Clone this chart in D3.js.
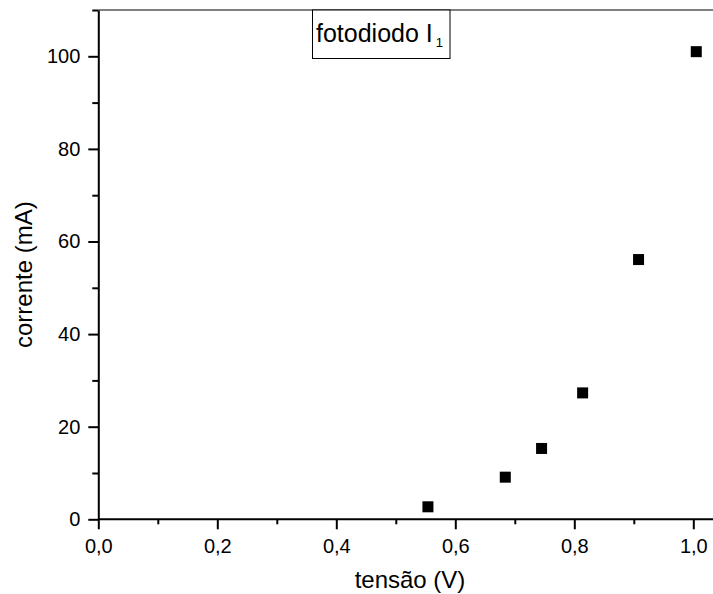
<!DOCTYPE html>
<html>
<head>
<meta charset="utf-8">
<script src="https://cdn.jsdelivr.net/npm/d3@7"></script>
<style>
  body { margin: 0; background: #fff; }
  svg { display: block; }
  text, tspan { font-family: "Liberation Sans", Arial, sans-serif; fill: #000; }
</style>
</head>
<body>
<svg id="chart" width="713" height="594"></svg>
<script>
// ---- data ----
const voltage = [0.554, 0.684, 0.745, 0.814, 0.908, 1.005];
const current = [2.7, 9.1, 15.3, 27.3, 56.1, 101.0];
const xMajorTicks = [0, 0.2, 0.4, 0.6, 0.8, 1.0];
const xMinorTicks = [0.1, 0.3, 0.5, 0.7, 0.9];
const yMajorTicks = [0, 20, 40, 60, 80, 100];
const yMinorTicks = [10, 30, 50, 70, 90, 110];
const xTitle = "tensão (V)";
const yTitle = "corrente (mA)";
const legendText = "fotodiodo I";
const legendSub = "1";

(function () {
const svg = d3.select("#chart");
const pLeft = 98.3, pBottom = 519.3, pTop = 10;
const x = d3.scaleLinear().domain([0, 1.0]).range([pLeft, 693.3]);
const y = d3.scaleLinear().domain([0, 110]).range([pBottom, pTop]);
const xEnd = 713;

const loc = d3.formatLocale({decimal: ",", thousands: ".", grouping: [3], currency: ["", ""]});
const fx = loc.format(".1f");

// top gray frame line
svg.append("line")
  .attr("x1", pLeft).attr("x2", xEnd).attr("y1", pTop).attr("y2", pTop)
  .attr("stroke", "#808080").attr("stroke-width", 2);

// x axis
const gx = svg.append("g").attr("transform", `translate(0,${pBottom})`);
gx.call(d3.axisBottom(x).tickValues(xMajorTicks).tickFormat(fx).tickSize(10).tickPadding(10).tickSizeOuter(0));
gx.append("g").call(d3.axisBottom(x).tickValues(xMinorTicks).tickFormat("").tickSize(5).tickSizeOuter(0))
  .select(".domain").remove();
gx.select(".domain").attr("d", `M${pLeft},0H${xEnd}`);

// y axis
const gy = svg.append("g").attr("transform", `translate(${pLeft},0)`);
gy.call(d3.axisLeft(y).tickValues(yMajorTicks).tickSize(10).tickPadding(8).tickSizeOuter(0));
gy.append("g").call(d3.axisLeft(y).tickValues(yMinorTicks).tickFormat("").tickSize(6).tickSizeOuter(0))
  .select(".domain").remove();

svg.selectAll(".domain, .tick line").attr("stroke", "#000").attr("stroke-width", 2);
svg.selectAll(".tick text").attr("font-size", 20).attr("font-family", "Liberation Sans, Arial, sans-serif").attr("fill", "#000");

// markers
const s = 11;
svg.append("g").selectAll("rect")
  .data(voltage.map((v, i) => [v, current[i]]))
  .join("rect")
  .attr("x", d => x(d[0]) - s / 2)
  .attr("y", d => y(d[1]) - s / 2)
  .attr("width", s).attr("height", s)
  .attr("fill", "#000");

// axis titles
svg.append("text").attr("x", 410).attr("y", 588).attr("text-anchor", "middle")
  .attr("font-size", 24).text(xTitle);
svg.append("text").attr("transform", "translate(32,348) rotate(-90)")
  .attr("text-anchor", "start").attr("font-size", 24).text(yTitle);

// legend box
svg.append("rect").attr("x", 312.5).attr("y", 10).attr("width", 137.5).attr("height", 48.5)
  .attr("fill", "#fff").attr("stroke", "#000").attr("stroke-width", 1);
const lt = svg.append("text").attr("x", 316).attr("y", 42).attr("font-size", 25).attr("fill", "#000");
lt.append("tspan").attr("fill", "#000").text(legendText);
lt.append("tspan").attr("font-size", 13).attr("dy", 5).attr("dx", 3).attr("fill", "#000").text(legendSub);
})();
</script>
</body>
</html>
